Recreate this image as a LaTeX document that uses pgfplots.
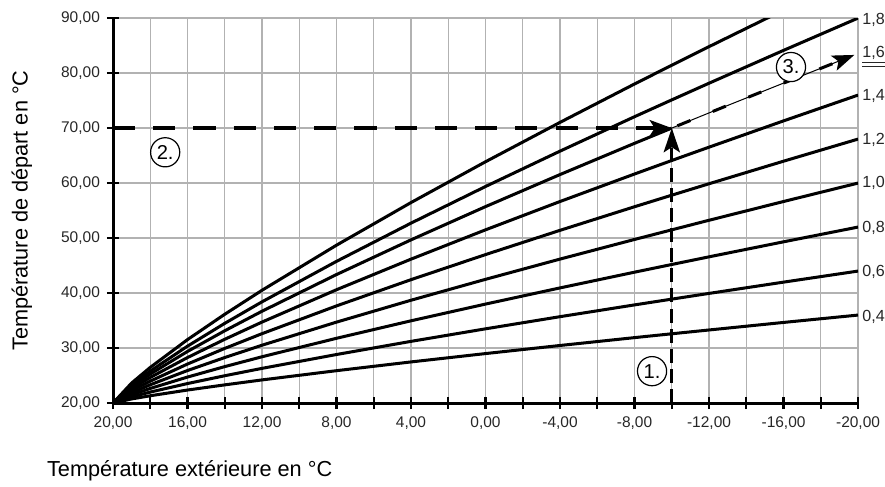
\documentclass[border=0pt]{standalone}
\usepackage{fontspec}
\setmainfont{Liberation Sans}
\usepackage{pgfplots}
\pgfplotsset{compat=1.18}
\usetikzlibrary{arrows.meta}
\begin{document}
\begin{tikzpicture}
\begin{axis}[
  name=main,
  scale only axis, width=370.4pt, height=191.4pt,
  x dir=reverse,
  xmin=-20, xmax=20, ymin=20, ymax=90,
  xtick={20,16,...,-20}, minor xtick={18,14,...,-18},
  ytick={20,30,...,90},
  grid=both,
  major grid style={gray!60, line width=0.6pt},
  minor grid style={gray!60, line width=0.6pt},
  axis x line=bottom, axis y line=left,
  axis line style={-, line width=1.5pt, black},
  tick align=center,
  major tick length=6pt, minor tick length=6pt,
  tick style={line width=1.1pt, black},
  clip mode=individual,
  /pgf/number format/assume math mode=true,
  /pgf/number format/.cd, fixed, fixed zerofill, precision=2, use comma,
  /pgfplots/.cd,
  ticklabel style={font=\fontsize{7.7}{9}\selectfont, text=black!85},
  every axis plot/.append style={line join=round},
]
\coordinate (sw) at (rel axis cs:0,0);
\coordinate (ne) at (rel axis cs:1,1);
\coordinate (wm) at (rel axis cs:0,0.5);
% s = 0.4
\addplot[black, line width=1.5pt] coordinates {(20,20) (19,20.75) (18,21.33) (16,22.37) (14,23.31) (12,24.21) (8,25.89) (4,27.48) (0,29.00) (-4,30.47) (-8,31.90) (-10,32.60) (-12,33.29) (-16,34.66) (-20,36.00)};
% s = 0.6
\addplot[black, line width=1.5pt] coordinates {(20,20) (19,21.12) (18,22.00) (16,23.55) (14,24.97) (12,26.31) (8,28.83) (4,31.22) (0,33.50) (-4,35.71) (-8,37.85) (-10,38.90) (-12,39.94) (-16,41.99) (-20,44.00)};
% s = 0.8
\addplot[black, line width=1.5pt] coordinates {(20,20) (19,21.50) (18,22.66) (16,24.73) (14,26.63) (12,28.42) (8,31.78) (4,34.96) (0,38.00) (-4,40.94) (-8,43.80) (-10,45.20) (-12,46.59) (-16,49.32) (-20,52.00)};
% s = 1.0
\addplot[black, line width=1.5pt] coordinates {(20,20) (19,21.87) (18,23.33) (16,25.92) (14,28.28) (12,30.52) (8,34.72) (4,38.70) (0,42.50) (-4,46.18) (-8,49.75) (-10,51.50) (-12,53.24) (-16,56.65) (-20,60.00)};
% s = 1.2
\addplot[black, line width=1.5pt] coordinates {(20,20) (19,22.25) (18,23.99) (16,27.10) (14,29.94) (12,32.62) (8,37.67) (4,42.44) (0,47.00) (-4,51.41) (-8,55.70) (-10,57.80) (-12,59.88) (-16,63.98) (-20,68.00)};
% s = 1.4
\addplot[black, line width=1.5pt] coordinates {(20,20) (19,22.62) (18,24.66) (16,28.28) (14,31.60) (12,34.73) (8,40.61) (4,46.17) (0,51.50) (-4,56.65) (-8,61.65) (-10,64.11) (-12,66.53) (-16,71.31) (-20,76.00)};
% s = 1.6 (solid part)
\addplot[black, line width=1.5pt] coordinates {(20,20) (19,22.97) (18,25.28) (16,29.39) (14,33.15) (12,36.70) (8,43.37) (4,49.68) (0,55.72) (-4,61.55) (-8,67.23) (-10,70.00)};
% s = 1.8
\addplot[black, line width=1.5pt] coordinates {(20,20) (19,23.28) (18,25.82) (16,30.35) (14,34.50) (12,38.41) (8,45.77) (4,52.72) (0,59.38) (-4,65.81) (-8,72.07) (-10,75.13) (-12,78.16) (-16,84.13) (-20,90.00)};
% s = 2.0
\addplot[black, line width=1.5pt] coordinates {(20,20) (19,23.65) (18,26.49) (16,31.54) (14,36.15) (12,40.51) (8,48.71) (4,56.46) (0,63.88) (-4,71.04) (-8,78.02) (-10,81.43) (-12,84.81) (-16,91.46) (-20,98.00)};
% 1.6 continuation (thin + dashes + arrow)
\addplot[black, line width=0.5pt, -{Stealth[length=11pt,width=8pt,inset=2.5pt]}] coordinates {(-10,70.00) (-12,72.76) (-16,78.18) (-19.8,83.30)};
\addplot[black, line width=1.5pt, dash pattern=on 7pt off 12pt, dash phase=-3pt] coordinates {(-10,70.00) (-12,72.76) (-16,78.18) (-19.0,82.2)};
% horizontal dashed arrow (2.)
\addplot[black, line width=1.6pt, dash pattern=on 11pt off 9pt, -{Stealth[length=11pt,width=8pt,inset=2.5pt]}] coordinates {(20,70) (-10,70)};
% vertical dashed arrow (1.)
\addplot[black, line width=1.6pt, dash pattern=on 7pt off 3pt, -{Stealth[length=12pt,width=8pt,inset=2.5pt]}] coordinates {(-10,20) (-10,70)};
% circled markers
\node[draw, circle, fill=white, line width=0.6pt, minimum size=14.5pt, inner sep=0pt, font=\fontsize{10}{12}\selectfont] at (axis cs:17.2,65.6) {2.};
\node[draw, circle, fill=white, line width=0.6pt, minimum size=14.5pt, inner sep=0pt, font=\fontsize{10}{12}\selectfont] at (axis cs:-8.94,25.8) {1.};
\node[draw, circle, fill=white, line width=0.6pt, minimum size=14.5pt, inner sep=0pt, font=\fontsize{10}{12}\selectfont] at (axis cs:-16.4,81.1) {3.};
% right side labels
\begin{scope}[every node/.style={anchor=west, inner sep=0pt, xshift=2pt, font=\fontsize{8}{9}\selectfont, text=black!85}]
\node at (axis cs:-20,89.6) {1,8};
\node at (axis cs:-20,83.0) {\underline{\underline{1,6}}};
\node at (axis cs:-20,75.8) {1,4};
\node at (axis cs:-20,67.9) {1,2};
\node at (axis cs:-20,60.0) {1,0};
\node at (axis cs:-20,51.8) {0,8};
\node at (axis cs:-20,43.8) {0,6};
\node at (axis cs:-20,35.6) {0,4};
\end{scope}
\end{axis}
\node[anchor=base west, inner sep=0pt, font=\fontsize{10.8}{13}\selectfont] at ([xshift=-33pt, yshift=-36.3pt]sw) {Température extérieure en °C};
\node[rotate=90, anchor=center, inner sep=0pt, font=\fontsize{10.8}{13}\selectfont] at ([xshift=-45.3pt]wm) {Température de départ en °C};
\pgfresetboundingbox
\path ([xshift=-56.2pt, yshift=-41.3pt]sw) rectangle ([xshift=13.4pt, yshift=9pt]ne);
\end{tikzpicture}
\end{document}
